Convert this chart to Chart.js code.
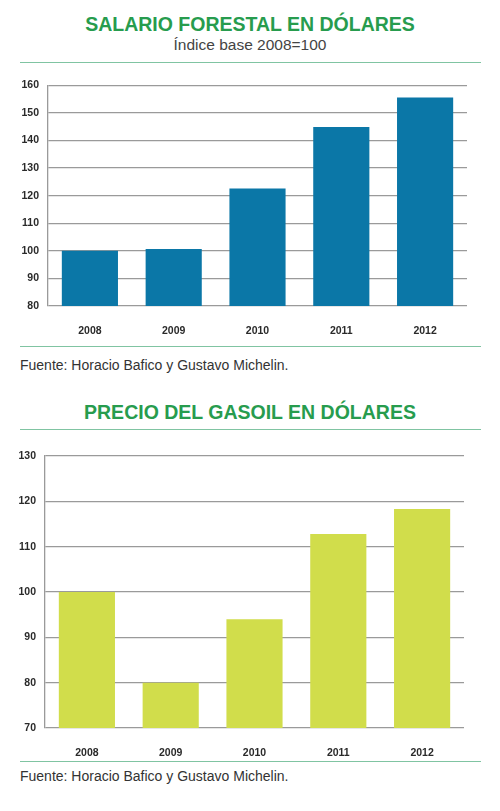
<!DOCTYPE html>
<html>
<head>
<meta charset="utf-8">
<script src="https://cdn.jsdelivr.net/npm/chart.js@4"></script>
<style>
  body { margin: 0; width: 500px; height: 811px; background: #fff; position: relative; font-family: "Liberation Sans", Arial, sans-serif; overflow: hidden; }
  .title { position: absolute; left: 0; width: 500px; text-align: center; color: #279c4e; font-weight: bold; font-size: 19.5px; }
  .sub { position: absolute; left: 0; width: 500px; text-align: center; color: #444; font-size: 15.5px; }
  .rule { position: absolute; left: 20px; width: 461px; height: 0; border-top: 1.5px solid #80c4a2; }
  .src { position: absolute; left: 20px; color: #333; font-size: 14px; }
  .box { position: absolute; left: 0; width: 500px; }
</style>
</head>
<body>
<div class="title" style="top:13px">SALARIO FORESTAL EN DÓLARES</div>
<div class="sub" style="top:36px">Índice base 2008=100</div>
<div class="rule" style="top:62px"></div>
<div class="box" style="top:70px;height:270px"><canvas id="salario"></canvas></div>
<div class="rule" style="top:346px"></div>
<div class="src" style="top:357px">Fuente: Horacio Bafico y Gustavo Michelin.</div>

<div class="title" style="top:401px">PRECIO DEL GASOIL EN DÓLARES</div>
<div class="rule" style="top:429px"></div>
<div class="box" style="top:440px;height:320px"><canvas id="gasoil"></canvas></div>
<div class="rule" style="top:761px"></div>
<div class="src" style="top:768px">Fuente: Horacio Bafico y Gustavo Michelin.</div>

<script>
const years = ['2008', '2009', '2010', '2011', '2012'];
const salario = [100, 100.7, 122.6, 144.9, 155.6];
const gasoil = [100, 80, 94, 112.8, 118.3];

function makeBarChart(id, values, color, yMin, yMax, axisW, pad) {
  return new Chart(document.getElementById(id), {
    type: 'bar',
    data: { labels: years, datasets: [{ data: values, backgroundColor: color, barPercentage: 0.67, categoryPercentage: 1 }] },
    options: {
      responsive: true,
      maintainAspectRatio: false,
      animation: false,
      layout: { padding: pad },
      plugins: { legend: { display: false }, tooltip: { enabled: false } },
      scales: {
        x: {
          grid: { display: false },
          border: { display: false },
          ticks: { color: '#2a2a2a', font: { family: 'Liberation Sans', size: 10.5, weight: 'bold' }, padding: 11 },
          afterFit: s => { s.height = 30; }
        },
        y: {
          min: yMin, max: yMax,
          ticks: { stepSize: 10, color: '#2a2a2a', font: { family: 'Liberation Sans', size: 10.5, weight: 'bold' }, padding: 9 },
          grid: { color: '#9a9a9a', lineWidth: 1.3, drawTicks: false },
          border: { display: true, color: '#9a9a9a', width: 1.3 },
          afterFit: s => { s.width = axisW; }
        }
      }
    }
  });
}

makeBarChart('salario', salario, '#0b77a7', 80, 160, 48, { top: 14, right: 33, bottom: 4, left: 0 });
makeBarChart('gasoil', gasoil, '#d1dd4b', 70, 130, 45, { top: 16, right: 36, bottom: 2, left: 0 });
</script>
</body>
</html>
